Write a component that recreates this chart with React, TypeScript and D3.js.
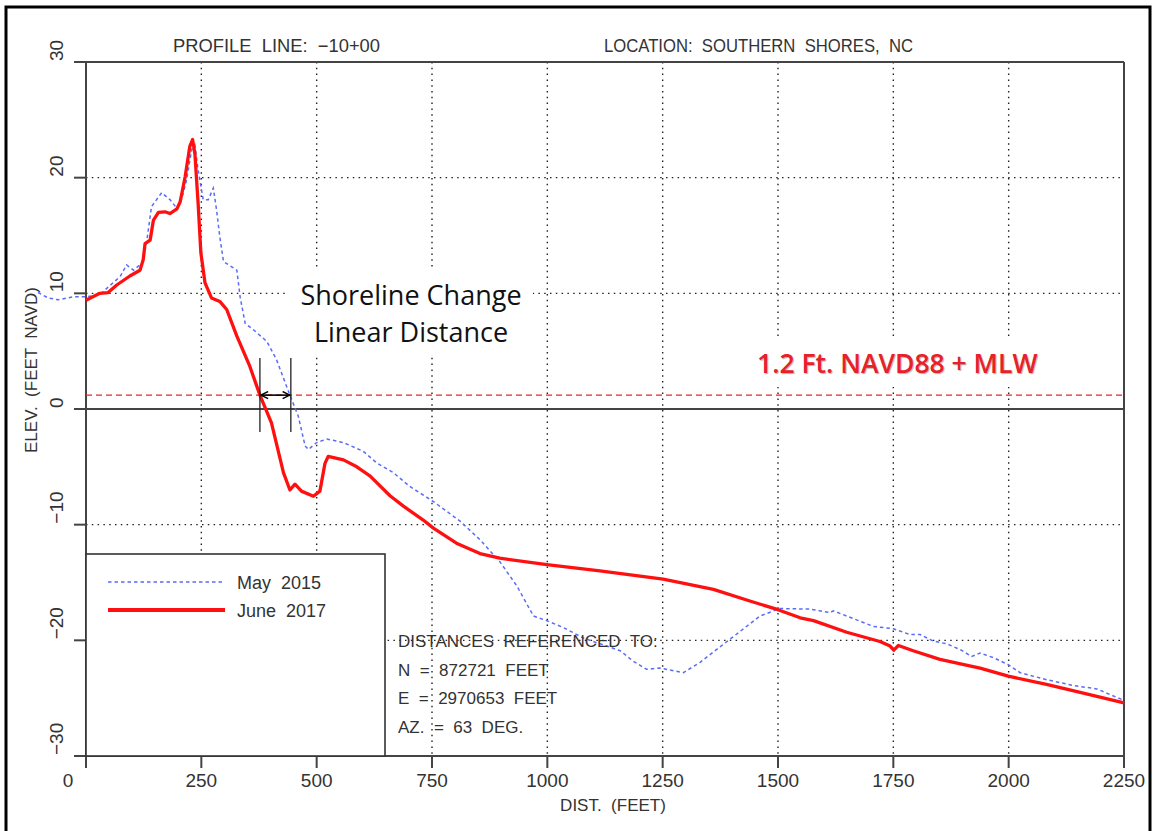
import * as d3 from "d3"
import { useEffect, useRef } from "react"

const W = 1154
const H = 831
const FONT = "'Liberation Sans', Arial, sans-serif"
const INK = "#333"

const xTicks = [0, 250, 500, 750, 1000, 1250, 1500, 1750, 2000, 2250]
const yTicks = [30, 20, 10, 0, -10, -20, -30]
const gridX = [250, 500, 750, 1000, 1250, 1500, 1750, 2000]
const gridY = [20, 10, -10, -20]

// May 2015 survey (blue dashed)
const mayDist = [-104, -82, -60, -28, 0, 30, 74, 88, 103, 121, 131, 142, 164, 182, 197, 207, 218, 229, 236, 243, 254, 265, 276, 283, 290, 298, 327, 334, 345, 363, 392, 413, 442, 460, 475, 482, 500, 522, 558, 601, 630, 666, 702, 753, 811, 854, 897, 934, 970, 999, 1035, 1078, 1158, 1186, 1215, 1244, 1295, 1331, 1396, 1461, 1504, 1569, 1613, 1620, 1649, 1707, 1750, 1786, 1808, 1837, 1866, 1895, 1920, 1938, 1967, 1999, 2025, 2082, 2140, 2191, 2250]
const mayElev = [10.07, 9.6, 9.44, 9.7, 9.7, 9.9, 11.45, 12.46, 12.0, 12.6, 14.3, 17.5, 18.7, 18.1, 17.35, 18.1, 19.8, 22.4, 22.8, 20.7, 18.1, 18.1, 19.1, 17.2, 14.9, 12.75, 12.0, 9.7, 7.4, 6.85, 5.84, 4.26, 1.2, -0.6, -3.2, -3.5, -2.9, -2.6, -2.9, -3.66, -4.66, -5.5, -6.7, -8.0, -9.7, -11.3, -13.2, -15.3, -17.9, -18.3, -18.9, -19.8, -20.9, -21.8, -22.5, -22.4, -22.8, -21.9, -19.9, -17.9, -17.25, -17.3, -17.6, -17.45, -17.9, -18.8, -19.0, -19.5, -19.5, -20.07, -20.3, -20.8, -21.4, -21.1, -21.5, -22.1, -22.8, -23.4, -23.9, -24.2, -25.2]

// June 2017 survey (red solid)
const juneDist = [0, 15, 30, 48, 66, 95, 117, 124, 128, 139, 146, 157, 171, 182, 197, 204, 215, 225, 231, 236, 243, 249, 258, 272, 290, 305, 327, 355, 377, 402, 428, 442, 453, 467, 493, 507, 518, 525, 558, 587, 616, 659, 688, 731, 753, 803, 854, 897, 999, 1114, 1251, 1360, 1439, 1500, 1548, 1577, 1649, 1721, 1743, 1751, 1761, 1793, 1851, 1938, 1999, 2082, 2155, 2250]
const juneElev = [9.4, 9.7, 10.0, 10.07, 10.7, 11.5, 12.0, 12.9, 14.3, 14.6, 16.3, 17.0, 17.05, 16.9, 17.3, 17.9, 20.1, 22.7, 23.3, 22.1, 17.8, 13.5, 10.9, 9.6, 9.3, 8.6, 6.3, 3.7, 1.2, -1.2, -5.5, -7.0, -6.5, -7.1, -7.55, -7.1, -4.7, -4.1, -4.4, -5.0, -5.8, -7.5, -8.4, -9.6, -10.3, -11.6, -12.5, -12.9, -13.45, -14.0, -14.7, -15.6, -16.6, -17.35, -18.05, -18.3, -19.3, -20.1, -20.5, -20.85, -20.45, -20.9, -21.65, -22.4, -23.1, -23.8, -24.5, -25.4]

const mlwLevel = 1.2
const shorelineDist = [377, 444]
const seriesNames = ["May  2015", "June  2017"]
const referenceLines = ["DISTANCES  REFERENCED  TO:", "N  =  872721  FEET", "E  =  2970653  FEET", "AZ.  =  63  DEG."]

export default function App() {
  const svgRef = useRef<SVGSVGElement | null>(null)

  useEffect(() => {
    if (!svgRef.current) return
    const svg = d3.select(svgRef.current)
    svg.selectAll("*").remove()

    const x = d3.scaleLinear().domain([0, 2250]).range([86, 1124])
    const y = d3.scaleLinear().domain([-30, 30]).range([756, 62])
    const [x0, x1] = x.range()
    const [yb, yt] = y.range()

    svg.append("rect").attr("width", W).attr("height", H).attr("fill", "#fff")

    // outer frame
    svg
      .append("rect")
      .attr("x", 6)
      .attr("y", 7)
      .attr("width", 1144)
      .attr("height", 900)
      .attr("fill", "none")
      .attr("stroke", "#000")
      .attr("stroke-width", 3)

    const defs = svg.append("defs")
    defs
      .append("marker")
      .attr("id", "arr")
      .attr("viewBox", "0 0 10 10")
      .attr("refX", 9)
      .attr("refY", 5)
      .attr("markerWidth", 9)
      .attr("markerHeight", 9)
      .attr("markerUnits", "userSpaceOnUse")
      .attr("orient", "auto-start-reverse")
      .append("path")
      .attr("d", "M1,1 L9,5 L1,9")
      .attr("fill", "none")
      .attr("stroke", "#000")
      .attr("stroke-width", 1.6)

    // Grid lines
    const grid = svg.append("g").attr("stroke", "#222").attr("stroke-width", 1.4).attr("stroke-dasharray", "1.5,4.3")
    gridX.forEach((d) => {
      grid.append("line").attr("x1", x(d)).attr("x2", x(d)).attr("y1", yt).attr("y2", yb)
    })
    gridY.forEach((d) => {
      grid.append("line").attr("x1", x0).attr("x2", x1).attr("y1", y(d)).attr("y2", y(d))
    })

    // white label backgrounds
    svg.append("rect").attr("x", 287).attr("y", 268).attr("width", 246).attr("height", 89).attr("fill", "#fff")
    svg.append("rect").attr("x", 742).attr("y", 336).attr("width", 314).attr("height", 51).attr("fill", "#fff")

    // Frame / axes
    const axis = svg.append("g").attr("stroke", "#444").attr("stroke-width", 2).attr("fill", "none")
    axis.append("line").attr("x1", x0 - 12).attr("x2", x1).attr("y1", yt).attr("y2", yt)
    axis.append("line").attr("x1", x0 - 12).attr("x2", x1).attr("y1", yb).attr("y2", yb)
    axis.append("line").attr("x1", x0).attr("x2", x0).attr("y1", yt).attr("y2", yb + 12)
    axis.append("line").attr("x1", x1).attr("x2", x1).attr("y1", yt).attr("y2", yb + 12)
    axis.append("line").attr("x1", x0 - 12).attr("x2", x1).attr("y1", y(0)).attr("y2", y(0))
    yTicks.forEach((t) => {
      axis.append("line").attr("x1", x0 - 12).attr("x2", x0).attr("y1", y(t)).attr("y2", y(t))
    })
    xTicks.forEach((t) => {
      axis.append("line").attr("x1", x(t)).attr("x2", x(t)).attr("y1", yb).attr("y2", yb + 12)
    })

    // Tick labels
    const fmt = (v: number) => (v < 0 ? "\u2212" + Math.abs(v) : String(v))
    svg
      .append("g")
      .selectAll("text")
      .data(xTicks)
      .join("text")
      .attr("x", (d) => x(d) - (d === 0 ? 18 : 0))
      .attr("y", 787)
      .attr("text-anchor", "middle")
      .attr("font-family", FONT)
      .attr("font-size", 19)
      .attr("fill", INK)
      .text(fmt)

    svg
      .append("g")
      .selectAll("text")
      .data(yTicks)
      .join("text")
      .attr("transform", (d) => `translate(63,${y(d) - 1}) rotate(-90)`)
      .attr("text-anchor", "start")
      .attr("font-family", FONT)
      .attr("font-size", 19)
      .attr("fill", INK)
      .text(fmt)

    // Axis titles
    svg
      .append("text")
      .attr("transform", "translate(37,370) rotate(-90)")
      .attr("text-anchor", "middle")
      .attr("font-family", FONT)
      .attr("font-size", 17)
      .attr("fill", INK)
      .style("white-space", "pre")
      .text("ELEV.  (FEET  NAVD)")

    svg
      .append("text")
      .attr("x", 613)
      .attr("y", 811)
      .attr("text-anchor", "middle")
      .attr("font-family", FONT)
      .attr("font-size", 17)
      .attr("fill", INK)
      .style("white-space", "pre")
      .text("DIST.  (FEET)")

    // Titles
    svg
      .append("text")
      .attr("x", 173)
      .attr("y", 52)
      .attr("font-family", FONT)
      .attr("font-size", 18)
      .attr("fill", INK)
      .attr("textLength", 207)
      .attr("lengthAdjust", "spacingAndGlyphs")
      .style("white-space", "pre")
      .text("PROFILE  LINE:  \u221210+00")
    svg
      .append("text")
      .attr("x", 604)
      .attr("y", 52)
      .attr("font-family", FONT)
      .attr("font-size", 18)
      .attr("fill", INK)
      .attr("textLength", 309)
      .attr("lengthAdjust", "spacingAndGlyphs")
      .style("white-space", "pre")
      .text("LOCATION:  SOUTHERN  SHORES,  NC")

    // MLW reference line
    svg
      .append("line")
      .attr("x1", x0)
      .attr("x2", x1)
      .attr("y1", y(mlwLevel))
      .attr("y2", y(mlwLevel))
      .attr("stroke", "#e8262a")
      .attr("stroke-width", 1.2)
      .attr("stroke-dasharray", "6,4")

    // Legend box
    svg
      .append("rect")
      .attr("x", x0)
      .attr("y", 554)
      .attr("width", 299)
      .attr("height", yb - 554)
      .attr("fill", "#fff")
      .attr("stroke", "#333")
      .attr("stroke-width", 1.6)

    // Profiles
    const line = d3
      .line<[number, number]>()
      .x((d) => x(d[0]))
      .y((d) => y(d[1]))

    const mayData = mayDist.map((d, i) => [d, mayElev[i]] as [number, number])
    const juneData = juneDist.map((d, i) => [d, juneElev[i]] as [number, number])

    svg
      .append("path")
      .attr("d", line(mayData))
      .attr("fill", "none")
      .attr("stroke", "#5b6cf5")
      .attr("stroke-width", 1.5)
      .attr("stroke-dasharray", "3.5,3")

    svg
      .append("path")
      .attr("d", line(juneData))
      .attr("fill", "none")
      .attr("stroke", "#ff1010")
      .attr("stroke-width", 3.3)
      .attr("stroke-linejoin", "round")

    // Legend entries
    const legendY = [582, 610]
    svg.append("line").attr("x1", 108).attr("x2", 225).attr("y1", legendY[0]).attr("y2", legendY[0]).attr("stroke", "#5b6cf5").attr("stroke-width", 1.5).attr("stroke-dasharray", "3.5,3")
    svg.append("line").attr("x1", 108).attr("x2", 225).attr("y1", legendY[1]).attr("y2", legendY[1]).attr("stroke", "#ff1010").attr("stroke-width", 3.8)
    seriesNames.forEach((n, i) => {
      svg
        .append("text")
        .attr("x", 237)
        .attr("y", legendY[i] + 7)
        .attr("font-family", FONT)
        .attr("font-size", 18)
        .attr("fill", INK)
        .style("white-space", "pre")
        .text(n)
    })

    // Reference notes
    referenceLines.forEach((t, i) => {
      svg
        .append("text")
        .attr("x", 398)
        .attr("y", 647 + i * 28.7)
        .attr("font-family", FONT)
        .attr("font-size", 17)
        .attr("fill", INK)
        .style("white-space", "pre")
        .text(t)
    })

    // Shoreline change markers
    const ym = y(mlwLevel)
    shorelineDist.forEach((d) => {
      svg.append("line").attr("x1", x(d)).attr("x2", x(d)).attr("y1", ym - 37).attr("y2", ym + 37).attr("stroke", "#222").attr("stroke-width", 1.3)
    })
    svg
      .append("line")
      .attr("x1", x(shorelineDist[0]) + 1)
      .attr("x2", x(shorelineDist[1]) - 1)
      .attr("y1", ym)
      .attr("y2", ym)
      .attr("stroke", "#000")
      .attr("stroke-width", 1.6)
      .attr("marker-start", "url(#arr)")
      .attr("marker-end", "url(#arr)")

    // Annotations
    const note = svg
      .append("text")
      .attr("text-anchor", "middle")
      .attr("font-family", "'Open Sans', sans-serif")
      .attr("font-size", 27)
      .attr("fill", "#111")
    note.append("tspan").attr("x", 411).attr("y", 305).text("Shoreline Change")
    note.append("tspan").attr("x", 411).attr("y", 342).text("Linear Distance")

    svg
      .append("text")
      .attr("x", 757)
      .attr("y", 373)
      .attr("font-family", "'Open Sans', sans-serif")
      .attr("font-size", 26.5)
      .attr("font-weight", 600)
      .attr("fill", "#e8202a")
      .style("text-shadow", "1px 1px 1px rgba(0,0,0,0.3)")
      .text("1.2 Ft. NAVD88 + MLW")
  }, [])

  return (
    <svg
      ref={svgRef}
      width={W}
      height={H}
      style={{ position: "absolute", left: 0, top: 0, display: "block" }}
      xmlns="http://www.w3.org/2000/svg"
    />
  )
}
